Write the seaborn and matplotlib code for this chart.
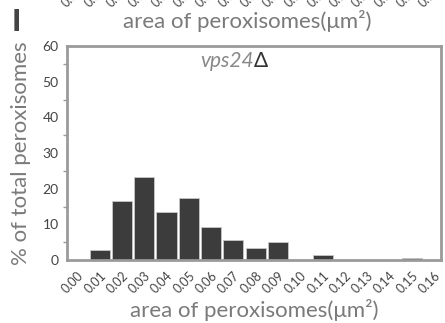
import numpy as np
import pandas as pd
import matplotlib
matplotlib.use("Agg")
import matplotlib.pyplot as plt
import matplotlib.transforms as mtransforms
import seaborn as sns

# area bins (µm^2) and % of total peroxisomes
bins = ["0.00", "0.01", "0.02", "0.03", "0.04", "0.05", "0.06", "0.07", "0.08",
        "0.09", "0.10", "0.11", "0.12", "0.13", "0.14", "0.15", "0.16"]
pct = [0, 2.8, 16.5, 23.2, 13.6, 17.3, 9.3, 5.7, 3.4,
       5.0, 0, 1.3, 0, 0, 0, 0.5, 0]
strain = "vps24"

df = pd.DataFrame({"area": bins, "pct": pct})

sns.set_style("white")
plt.rcParams['font.family'] = ['Lato', 'DejaVu Sans']

GRIS_EJE = "#9a9a9a"
GRIS_TXT = "#444444"
GRIS_LAB = "#7a7a7a"

fig = plt.figure(figsize=(4.45, 3.23), dpi=100)
ax = fig.add_axes([0.1506, 0.195, 0.8404, 0.6626])

sns.barplot(data=df, x="area", y="pct", order=bins, color="#3c3c3c",
            width=0.9, edgecolor="#c8c8c8", linewidth=0.6, saturation=1, ax=ax)

ax.set_xlim(-0.46, 16.31)
ax.set_ylim(0, 60)
ax.set_yticks([0, 10, 20, 30, 40, 50, 60])
ax.set_yticks([5, 15, 25, 35, 45, 55], minor=True)
ax.set_xticks(range(len(bins)))
ax.set_xticklabels(bins, rotation=45, ha="right", rotation_mode="anchor")

for s in ax.spines.values():
    s.set_color(GRIS_EJE)
    s.set_linewidth(2)
    s.set_visible(True)
ax.tick_params(axis="both", which="major", direction="out", length=5, width=1.2,
               color=GRIS_EJE, labelcolor=GRIS_TXT, labelsize=10)
ax.tick_params(axis="x", labelsize=9, pad=2)
ax.tick_params(axis="y", which="minor", direction="out", length=3, width=1,
               color=GRIS_EJE, left=True)
ax.tick_params(axis="y", pad=1)

ax.set_xlabel("area of peroxisomes(μm²)", fontsize=16, color=GRIS_LAB, labelpad=2)
ax.set_ylabel("% of total peroxisomes", fontsize=16, color=GRIS_LAB, labelpad=8)

ax.text(0.5, 0.93, strain, transform=ax.transAxes, ha="right", va="center",
        fontsize=15, style="italic", color="#888888")
ax.text(0.5, 0.93, "Δ", transform=ax.transAxes, ha="left", va="center",
        fontsize=15, color="#333333")

# restos del panel superior (recortados)
fig.text(0.555, 0.935, "area of peroxisomes(μm²)", ha="center", va="center",
         fontsize=16, color=GRIS_LAB)
trans = mtransforms.blended_transform_factory(ax.transData, fig.transFigure)
for i, b in enumerate(bins):
    ax.text(i + 0.2, 1.037, b, transform=trans, rotation=45, ha="right",
            va="center", rotation_mode="anchor", fontsize=9, color=GRIS_TXT,
            clip_on=False)
fig.text(0.036, 0.933, "I", ha="center", va="center", fontsize=22,
         fontweight="black", color="#444444")

fig.savefig("out.png", dpi=100)
